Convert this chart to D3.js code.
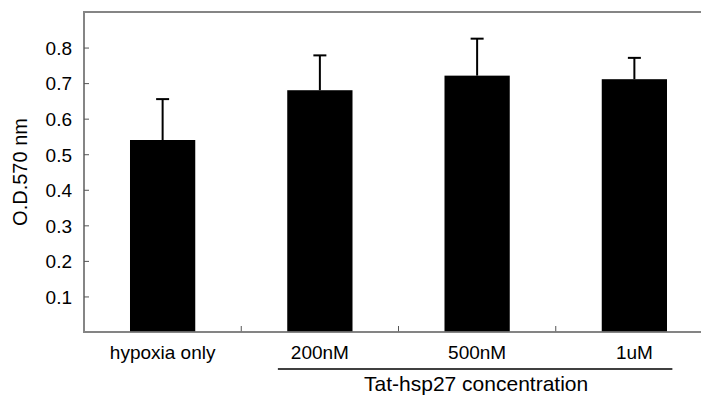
<!DOCTYPE html>
<html>
<head>
<meta charset="utf-8">
<script src="https://cdn.jsdelivr.net/npm/d3@7"></script>
<style>
  body { margin: 0; background: #fff; }
  text { font-family: "Liberation Sans", Arial, sans-serif; fill: #000; }
</style>
</head>
<body>
<script>
// chart data
let categories = ["hypoxia only", "200nM", "500nM", "1uM"];
let means = [0.54, 0.68, 0.721, 0.711];
let errors = [0.115, 0.098, 0.104, 0.06];
let yTicks = [0.1, 0.2, 0.3, 0.4, 0.5, 0.6, 0.7, 0.8];
let groupLabel = "Tat-hsp27 concentration";
let yTitle = "O.D.570 nm";

let margin = {top: 12, left: 84, bottom: 66, right: -12};
let width = 701 - margin.left - margin.right,
    height = 398 - margin.top - margin.bottom;

let svg = d3.select("body").append("svg")
    .attr("width", 701)
    .attr("height", 398)
  .append("g")
    .attr("transform", `translate(${margin.left}, ${margin.top})`);

let x = d3.scaleBand()
    .domain(categories)
    .range([0, width])
    .padding(0);

let y = d3.scaleLinear()
    .domain([0, 0.9])
    .range([height, 0]);

// frame (top border + left axis line)
svg.append("rect")
    .attr("x", 0).attr("y", 0)
    .attr("width", width).attr("height", height)
    .attr("fill", "none")
    .attr("stroke", "#858585")
    .attr("stroke-width", 2);

// y axis: ticks point inward
let yAxis = svg.append("g")
    .call(d3.axisRight(y).tickValues(yTicks).tickSize(5).tickFormat(d3.format(".1f")));
yAxis.select(".domain").remove();
yAxis.selectAll(".tick line").attr("stroke", "#555").attr("stroke-width", 1);
yAxis.selectAll(".tick text")
    .attr("x", -12)
    .attr("text-anchor", "end")
    .attr("dy", "0.36em")
    .style("font-size", "19px")
    .style("font-family", "Liberation Sans, Arial, sans-serif")
    .attr("fill", "#000");

// x axis: category boundary ticks pointing up
let boundaries = categories.slice(1).map(c => x(c));
svg.append("g")
  .selectAll("line")
  .data(boundaries)
  .join("line")
    .attr("x1", d => d).attr("x2", d => d)
    .attr("y1", height).attr("y2", height - 6)
    .attr("stroke", "#555");

svg.append("g")
  .selectAll("text")
  .data(categories)
  .join("text")
    .attr("x", d => x(d) + x.bandwidth() / 2)
    .attr("y", height + 27)
    .attr("text-anchor", "middle")
    .style("font-size", "19px")
    .text(d => d);

// bars
let barW = x.bandwidth() * 0.415;
svg.append("g")
  .selectAll("rect")
  .data(means)
  .join("rect")
    .attr("x", (d, i) => x(categories[i]) + (x.bandwidth() - barW) / 2)
    .attr("y", d => y(d))
    .attr("width", barW)
    .attr("height", d => y(0) - y(d))
    .attr("fill", "#000");

// error bars (upper only)
let eb = svg.append("g").attr("stroke", "#000").attr("stroke-width", 2);
means.forEach((m, i) => {
  let cx = x(categories[i]) + x.bandwidth() / 2;
  eb.append("line")
    .attr("x1", cx).attr("x2", cx)
    .attr("y1", y(m)).attr("y2", y(m + errors[i]));
  eb.append("line")
    .attr("x1", cx - 6.5).attr("x2", cx + 6.5)
    .attr("y1", y(m + errors[i])).attr("y2", y(m + errors[i]));
});

// bottom axis line drawn on top of bars
svg.append("line")
    .attr("x1", 0).attr("x2", width)
    .attr("y1", height).attr("y2", height)
    .attr("stroke", "#858585")
    .attr("stroke-width", 1.5);

// group bracket for treatment concentrations
let g0 = x(categories[1]) + x.bandwidth() / 2 - 42,
    g1 = x(categories[3]) + x.bandwidth() / 2 + 38;
svg.append("line")
    .attr("x1", g0).attr("x2", g1)
    .attr("y1", height + 37).attr("y2", height + 37)
    .attr("stroke", "#000")
    .attr("stroke-width", 1.5);

svg.append("text")
    .attr("x", x(categories[2]) + x.bandwidth() / 2 - 1)
    .attr("y", height + 59)
    .attr("text-anchor", "middle")
    .style("font-size", "21px")
    .text(groupLabel);

// y title
svg.append("text")
    .attr("transform", `translate(${-57}, ${y(0.45)}) rotate(-90)`)
    .attr("text-anchor", "middle")
    .style("font-size", "20px")
    .text(yTitle);
</script>
</body>
</html>
